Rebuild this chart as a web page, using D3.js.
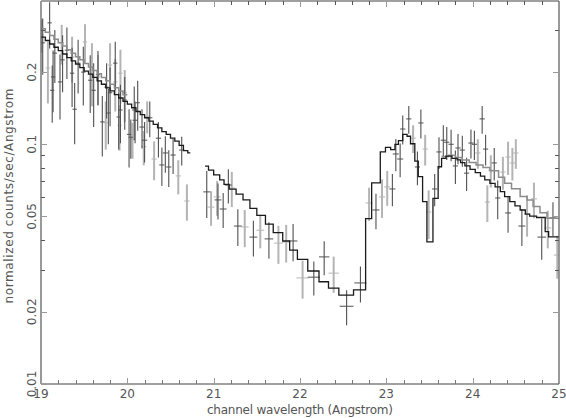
<!DOCTYPE html>
<html>
<head>
<meta charset="utf-8">
<style>
  body { margin: 0; background: white; }
  svg { display: block; }
  .lbl { font-family: "DejaVu Sans", sans-serif; font-size: 12px; fill: #555; }
  .tick line { shape-rendering: crispEdges; }
  .axis path { display: none; }
</style>
</head>
<body>
<svg id="chart" width="566" height="418"></svg>
<script src="https://cdnjs.cloudflare.com/ajax/libs/d3/7.8.5/d3.min.js"></script>
<script>

// tick labels
var xMajor = [19, 20, 21, 22, 23, 24, 25];
var yMajor = [0.01, 0.02, 0.05, 0.1, 0.2];
var yMinor = [0.03, 0.04, 0.06, 0.07, 0.08, 0.09, 0.3];

// data points: [wavelength, value, y error, half bin width]
var blackPts = [
  [19.02,0.265,0.07,0.025],[19.10,0.321,0.07,0.025],[19.13,0.168,0.045,0.025],[19.14,0.191,0.055,0.025],
  [19.16,0.240,0.06,0.025],[19.22,0.182,0.055,0.025],[19.25,0.225,0.06,0.025],[19.30,0.247,0.06,0.025],
  [19.36,0.198,0.055,0.025],[19.39,0.140,0.04,0.025],[19.43,0.218,0.055,0.025],[19.49,0.200,0.055,0.025],
  [19.57,0.185,0.05,0.025],[19.61,0.168,0.05,0.025],[19.66,0.195,0.05,0.025],[19.71,0.124,0.035,0.025],
  [19.76,0.173,0.045,0.025],[19.78,0.135,0.035,0.025],[19.80,0.164,0.045,0.025],[19.86,0.218,0.05,0.025],
  [19.90,0.130,0.035,0.025],[19.92,0.139,0.038,0.025],[19.97,0.153,0.038,0.025],[20.02,0.110,0.03,0.025],
  [20.08,0.139,0.035,0.025],[20.12,0.149,0.035,0.025],[20.04,0.107,0.02,0.025],
  [20.09,0.126,0.025,0.03],[20.17,0.118,0.022,0.03],[20.20,0.104,0.02,0.03],[20.26,0.129,0.022,0.03],
  [20.36,0.106,0.018,0.03],[20.40,0.082,0.015,0.03],[20.44,0.092,0.016,0.03],[20.48,0.0804,0.014,0.03],
  [20.53,0.0902,0.015,0.03],[20.63,0.0946,0.013,0.03],[20.92,0.0633,0.014,0.04],[21.05,0.0586,0.01,0.04],
  [21.11,0.0537,0.009,0.04],[21.17,0.0676,0.011,0.04],[21.28,0.0456,0.008,0.045],[21.46,0.041,0.007,0.045],
  [21.64,0.0403,0.007,0.05],[21.92,0.0395,0.007,0.05],[22.16,0.0279,0.0045,0.07],[22.28,0.0339,0.0055,0.06],
  [22.54,0.0211,0.0035,0.08],[22.70,0.0264,0.0045,0.07],[22.88,0.0532,0.009,0.04],[23.07,0.0651,0.01,0.035],
  [23.11,0.0911,0.014,0.035],[23.16,0.0868,0.014,0.035],[23.19,0.1158,0.016,0.03],[23.26,0.1276,0.017,0.03],
  [23.36,0.0804,0.013,0.03],[23.40,0.1227,0.017,0.03],[23.56,0.0651,0.01,0.03],[23.61,0.0929,0.014,0.03],
  [23.66,0.104,0.016,0.03],[23.70,0.102,0.016,0.03],[23.75,0.100,0.015,0.03],[23.80,0.0812,0.013,0.03],
  [23.83,0.0965,0.014,0.03],[23.88,0.0946,0.014,0.03],[23.93,0.0758,0.012,0.03],[23.98,0.1012,0.014,0.03],
  [24.02,0.100,0.014,0.03],[24.11,0.1276,0.017,0.03],[24.15,0.0955,0.014,0.03],[24.25,0.0836,0.013,0.03],
  [24.29,0.0597,0.011,0.03],[24.41,0.0517,0.009,0.035],[24.57,0.0456,0.008,0.04],[24.80,0.041,0.008,0.05],
  [24.93,0.0493,0.008,0.04]
];

var grayPts = [
  [19.01,0.286,0.045,0.025],[19.08,0.208,0.06,0.025],[19.24,0.265,0.05,0.025],[19.36,0.231,0.05,0.025],
  [19.51,0.267,0.05,0.025],[19.59,0.204,0.06,0.025],[19.66,0.191,0.045,0.025],[19.75,0.123,0.028,0.025],
  [19.80,0.214,0.05,0.025],[19.86,0.182,0.045,0.025],[19.91,0.120,0.026,0.025],[19.92,0.198,0.05,0.025],
  [19.97,0.164,0.04,0.025],[20.06,0.105,0.018,0.025],
  [20.19,0.0977,0.016,0.03],[20.23,0.131,0.02,0.03],[20.31,0.0868,0.016,0.03],[20.59,0.0738,0.012,0.03],
  [20.69,0.058,0.01,0.03],[20.97,0.0547,0.009,0.04],[21.04,0.0603,0.01,0.04],[21.21,0.0657,0.011,0.04],
  [21.36,0.0452,0.008,0.045],[21.54,0.0438,0.007,0.045],[21.75,0.0387,0.007,0.05],[21.84,0.0391,0.007,0.05],
  [22.03,0.0277,0.005,0.07],[22.39,0.029,0.005,0.06],[22.80,0.0569,0.009,0.04],[22.95,0.0603,0.011,0.035],
  [23.01,0.0664,0.011,0.035],[23.31,0.106,0.014,0.03],[23.45,0.0955,0.014,0.03],[23.49,0.0522,0.012,0.03],
  [24.06,0.092,0.013,0.03],[24.17,0.0574,0.01,0.03],[24.21,0.078,0.012,0.03],[24.35,0.0766,0.012,0.03],
  [24.41,0.0885,0.014,0.03],[24.46,0.0836,0.013,0.03],[24.50,0.092,0.013,0.03],[24.63,0.0512,0.01,0.035],
  [24.71,0.0592,0.01,0.035],[24.87,0.0448,0.008,0.04],[24.98,0.0345,0.007,0.04]
];

// model step curves: [bin start wavelength, value]; null value = gap
var blackModel = [
  [19.00,0.280],[19.05,0.271],[19.10,0.262],[19.15,0.254],[19.20,0.246],[19.25,0.238],[19.30,0.230],
  [19.35,0.223],[19.40,0.216],[19.45,0.209],[19.50,0.202],[19.55,0.196],[19.60,0.190],[19.65,0.184],
  [19.70,0.178],[19.75,0.172],[19.80,0.167],[19.85,0.161],[19.90,0.156],[19.95,0.151],[20.00,0.147],
  [20.05,0.142],[20.10,0.137],[20.15,0.133],[20.20,0.129],[20.25,0.125],[20.30,0.121],[20.35,0.117],
  [20.40,0.113],[20.45,0.110],[20.50,0.106],[20.55,0.103],[20.60,0.099],[20.65,0.094],[20.70,0.092],
  [20.73,0.092],[20.80,null],
  [20.90,0.081],[20.94,0.078],[21.00,0.0745],[21.07,0.071],[21.12,0.068],[21.18,0.065],[21.26,0.062],
  [21.34,0.0586],[21.42,0.054],[21.50,0.0505],[21.60,0.0464],[21.69,0.0428],[21.80,0.0395],[21.88,0.0362],
  [21.97,0.0331],[22.09,0.0296],[22.22,0.0267],[22.33,0.0251],[22.45,0.0235],[22.62,0.0247],[22.76,0.049],
  [22.83,0.069],[22.93,0.093],[22.99,0.097],[23.05,0.095],[23.10,0.100],[23.14,0.1035],[23.19,0.110],
  [23.24,0.108],[23.28,0.1005],[23.33,0.085],[23.37,0.0733],[23.42,0.0576],[23.47,0.0392],[23.54,0.0595],
  [23.60,0.0806],[23.64,0.0874],[23.69,0.0893],[23.76,0.0874],[23.82,0.0861],[23.86,0.0838],[23.91,0.0812],
  [23.97,0.0786],[24.03,0.0761],[24.09,0.0736],[24.14,0.071],[24.20,0.0687],[24.26,0.0664],[24.32,0.0634],
  [24.37,0.0605],[24.43,0.0576],[24.49,0.0553],[24.55,0.0532],[24.61,0.0511],[24.66,0.0502],[24.74,0.0495],
  [24.84,0.0432],[24.88,0.0411],[25.00,0.0411]
];

var grayModel = [
  [19.00,0.303],[19.05,0.293],[19.10,0.284],[19.15,0.274],[19.20,0.265],[19.25,0.257],[19.30,0.248],
  [19.35,0.240],[19.40,0.232],[19.45,0.225],[19.50,0.217],[19.55,0.210],[19.60,0.203],[19.65,0.197],
  [19.70,0.190],[19.75,0.184],[19.80,0.178],[19.85,0.172],[19.90,0.167],[19.95,0.161],[20.00,0.161],
  [20.10,null],
  [23.64,0.089],[23.72,0.090],[23.80,0.088],[23.88,0.086],[23.96,0.084],[24.04,0.082],[24.12,0.080],
  [24.20,0.0775],[24.30,0.0728],[24.37,0.0687],[24.45,0.0652],[24.55,0.0605],[24.63,0.0586],[24.70,0.055],
  [24.78,0.0518],[24.86,0.0491],[25.00,0.0491]
];

var margin = {top: 1, right: 7, bottom: 34, left: 41};
var width = 566 - margin.left - margin.right;
var height = 418 - margin.top - margin.bottom;

var svg = d3.select("#chart");
var g = svg.append("g")
  .attr("transform", "translate(" + margin.left + "," + margin.top + ")");

var x = d3.scaleLinear().domain([19, 25]).range([0, width]);
var y = d3.scaleLog().domain([0.01, 0.396]).range([height, 0]);

g.append("clipPath").attr("id", "clip")
  .append("rect").attr("width", width).attr("height", height);
var plot = g.append("g").attr("clip-path", "url(#clip)");

//draws one set of crosses
function drawPoints(data, color, vw) {
  var pt = plot.append("g").selectAll("g")
    .data(data)
    .enter().append("g");
  pt.append("line")
    .attr("x1", function(d) { return x(d[0]); })
    .attr("x2", function(d) { return x(d[0]); })
    .attr("y1", function(d) { return y(d[1] + d[2]); })
    .attr("y2", function(d) { return y(Math.max(d[1] - d[2], 0.005)); })
    .attr("stroke", color)
    .attr("stroke-width", vw);
  pt.append("line")
    .attr("x1", function(d) { return x(d[0] - d[3]); })
    .attr("x2", function(d) { return x(d[0] + d[3]); })
    .attr("y1", function(d) { return y(d[1]); })
    .attr("y2", function(d) { return y(d[1]); })
    .attr("stroke", color)
    .attr("stroke-width", 1);
}

drawPoints(grayPts, "#b4b4b4", 2);
drawPoints(blackPts, "#505050", 1.1);

var step = d3.line()
  .defined(function(d) { return d[1] != null; })
  .x(function(d) { return x(d[0]); })
  .y(function(d) { return y(d[1]); })
  .curve(d3.curveStepAfter);

plot.append("path")
  .datum(grayModel)
  .attr("d", step)
  .attr("fill", "none")
  .attr("stroke", "#8c8c8c")
  .attr("stroke-width", 1.5);

plot.append("path")
  .datum(blackModel)
  .attr("d", step)
  .attr("fill", "none")
  .attr("stroke", "#1a1a1a")
  .attr("stroke-width", 1.3);

// frame
g.append("line").attr("x1", 0).attr("x2", width).attr("y1", height).attr("y2", height)
  .attr("stroke", "#a0a0a0").attr("stroke-width", 2);
g.append("line").attr("x1", 0).attr("x2", width).attr("y1", 0).attr("y2", 0)
  .attr("stroke", "#a0a0a0").attr("stroke-width", 2);
g.append("line").attr("x1", 0).attr("x2", 0).attr("y1", 0).attr("y2", height)
  .attr("stroke", "#555").attr("stroke-width", 1.2);
g.append("line").attr("x1", width).attr("x2", width).attr("y1", 0).attr("y2", height)
  .attr("stroke", "#555").attr("stroke-width", 1.2);

// ticks (inside)
var xMinorTicks = d3.range(19.2, 25, 0.2).filter(function(v) { return Math.abs(v - Math.round(v)) > 0.01; });

function tickAxis(axis, pos, color) {
  var a = g.append("g").attr("class", "axis")
    .attr("transform", pos)
    .call(axis);
  a.selectAll("line").attr("stroke", color);
  a.selectAll("text").remove();
}

tickAxis(d3.axisBottom(x).tickValues(xMajor).tickSize(-6).tickFormat(""), "translate(0," + height + ")", "#999");
tickAxis(d3.axisBottom(x).tickValues(xMinorTicks).tickSize(-4).tickFormat(""), "translate(0," + height + ")", "#777");
tickAxis(d3.axisTop(x).tickValues(xMajor).tickSize(-6).tickFormat(""), "translate(0,0)", "#999");
tickAxis(d3.axisTop(x).tickValues(xMinorTicks).tickSize(-4).tickFormat(""), "translate(0,0)", "#555");
tickAxis(d3.axisLeft(y).tickValues(yMajor).tickSize(-6).tickFormat(""), "translate(0,0)", "#999");
tickAxis(d3.axisLeft(y).tickValues(yMinor).tickSize(-4).tickFormat(""), "translate(0,0)", "#555");
tickAxis(d3.axisRight(y).tickValues(yMajor).tickSize(-6).tickFormat(""), "translate(" + width + ",0)", "#999");
tickAxis(d3.axisRight(y).tickValues(yMinor).tickSize(-4).tickFormat(""), "translate(" + width + ",0)", "#555");

// tick labels
g.selectAll(".xlab")
  .data(xMajor)
  .enter().append("text")
  .attr("class", "lbl")
  .attr("x", function(d) { return x(d); })
  .attr("y", height + 14)
  .attr("text-anchor", "middle")
  .text(function(d) { return d; });

g.selectAll(".ylab")
  .data(yMajor)
  .enter().append("text")
  .attr("class", "lbl")
  .attr("transform", function(d) { return "translate(-5," + y(d) + ") rotate(-90)"; })
  .attr("text-anchor", "middle")
  .text(function(d) { return d; });

// axis titles
svg.append("text")
  .attr("class", "lbl")
  .attr("x", 300)
  .attr("y", 414)
  .attr("text-anchor", "middle")
  .attr("textLength", 186)
  .text("channel wavelength (Angstrom)");

svg.append("text")
  .attr("class", "lbl")
  .attr("transform", "translate(13,196) rotate(-90)")
  .attr("text-anchor", "middle")
  .attr("textLength", 215)
  .text("normalized counts/sec/Angstrom");

</script>
</body>
</html>
